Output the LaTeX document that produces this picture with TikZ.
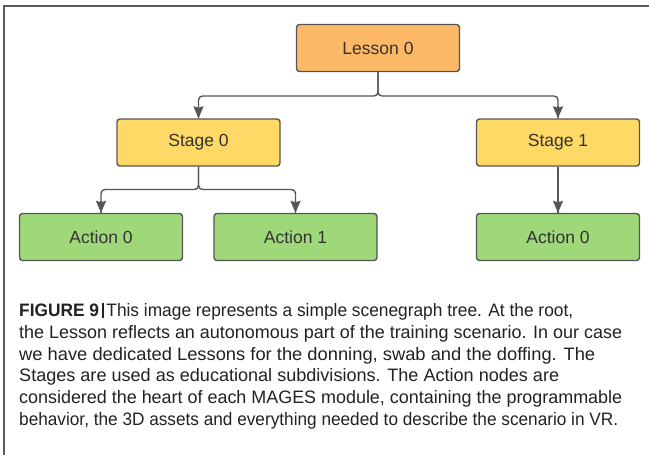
\documentclass[tikz,border=0pt]{standalone}
\usepackage{fontspec}
\setmainfont{Liberation Sans}
\usetikzlibrary{arrows.meta,calc}
\definecolor{frameC}{HTML}{5A5A5A}
\definecolor{edgeC}{HTML}{555555}
\definecolor{lessonC}{HTML}{FDB866}
\definecolor{stageC}{HTML}{FFD966}
\definecolor{actionC}{HTML}{9ED878}
\definecolor{txtC}{HTML}{333333}
\definecolor{capC}{HTML}{222222}
\tikzset{
  box/.style={draw=edgeC, line width=1.4pt, rounded corners=3pt, minimum width=163pt, minimum height=47pt, inner sep=0pt, font=\fontsize{17.5}{19}\selectfont, text=txtC},
  lessonbox/.style={box, fill=lessonC},
  stagebox/.style={box, fill=stageC},
  actionbox/.style={box, fill=actionC},
  conn/.style={draw=edgeC, line width=1.4pt, rounded corners=4pt},
  tipline/.style={draw=edgeC, line width=1.4pt, -{Stealth[length=12pt,width=10pt,inset=1.5pt]}},
  capline/.style={anchor=base west, inner sep=0pt, text=capC, font=\fontsize{18}{20}\selectfont}
}
\newcommand{\fitline}[2]{\resizebox{#1pt}{\height}{#2}}
\begin{document}
\begin{tikzpicture}[x=1pt,y=-1pt]
\useasboundingbox (0,0) rectangle (649,455);
\fill[white] (0,0) rectangle (649,455);
\draw[frameC, line width=1.2pt] (4,455) -- (4,6) -- (649,6);

\node[lessonbox] (lesson) at (378,48) {Lesson 0};
\node[stagebox] (s0) at (198.5,142.5) {Stage 0};
\node[stagebox] (s1) at (558,142.5) {Stage 1};
\node[actionbox] (a0) at (101,237) {Action 0};
\node[actionbox] (a1) at (295.5,237) {Action 1};
\node[actionbox] (a2) at (558,237) {Action 0};

\coordinate (j1) at (378,96);
\coordinate (j2) at (198.5,189.5);
\draw[conn] (lesson.south) -- (j1) -| (s0.north);
\draw[conn] (lesson.south) -- (j1) -| (s1.north);
\draw[conn] (s0.south) -- (j2) -| (a0.north);
\draw[conn] (s0.south) -- (j2) -| (a1.north);
\draw[conn] (s1.south) -- (a2.north);
\foreach \n in {s0,s1,a0,a1,a2}{
  \draw[tipline] ($(\n.north)+(0,-12)$) -- (\n.north);
}

\node[capline] (c1) at (19,316) {\fitline{554}{\textbf{FIGURE 9}\,\rule[-2pt]{1.6pt}{15pt}\,This image represents a simple scenegraph tree. At the root,}};
\node[capline] (c2) at (19,338) {\fitline{603}{the Lesson reflects an autonomous part of the training scenario. In our case}};
\node[capline] (c3) at (19,360) {\fitline{576}{we have dedicated Lessons for the donning, swab and the doffing. The}};
\node[capline] (c4) at (19,381) {\fitline{540}{Stages are used as educational subdivisions. The Action nodes are}};
\node[capline] (c5) at (19,403) {\fitline{603}{considered the heart of each MAGES module, containing the programmable}};
\node[capline] (c6) at (19,425) {\fitline{599}{behavior, the 3D assets and everything needed to describe the scenario in VR.}};
\end{tikzpicture}
\end{document}
